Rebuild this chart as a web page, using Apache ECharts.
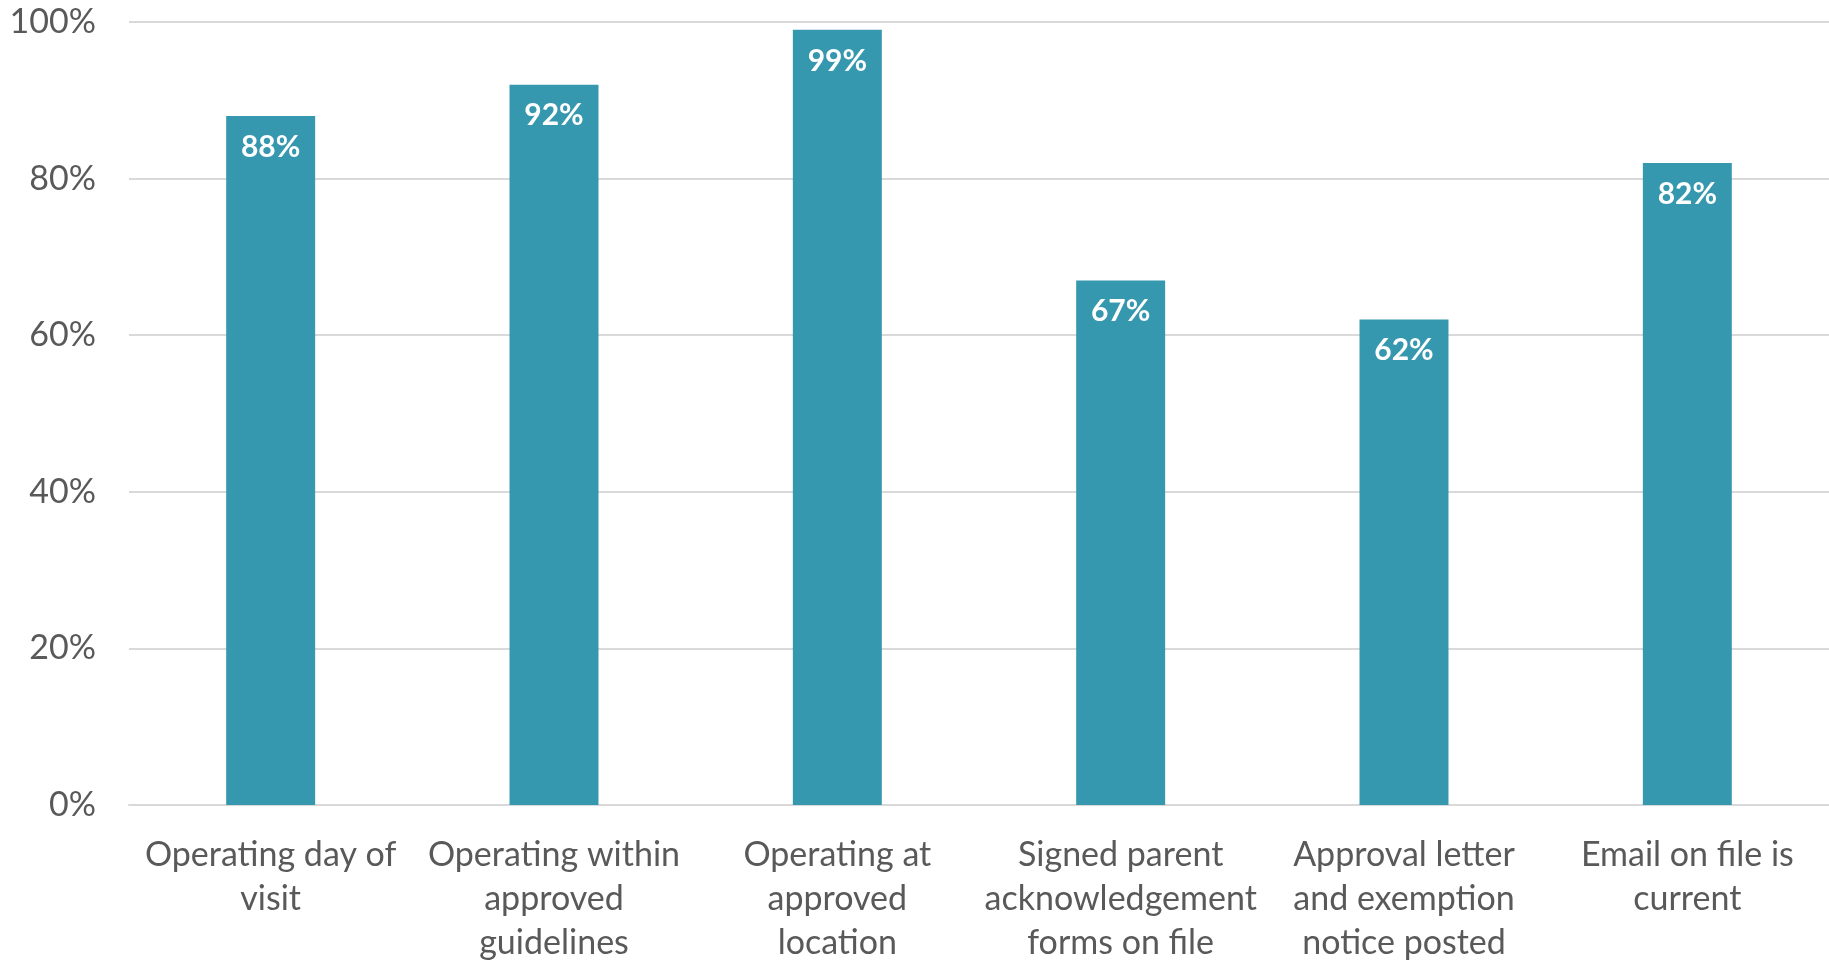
<!DOCTYPE html>
<html>
<head>
<meta charset="utf-8">
<title>Compliance by item</title>
<script src="https://cdn.jsdelivr.net/npm/echarts@6/dist/echarts.min.js"></script>
<style>
  html, body { margin: 0; padding: 0; background: #ffffff; }
  #chart { width: 1829px; height: 965px; }
</style>
</head>
<body>
<div id="chart"></div>
<script>
// Inspection items (line breaks mark where each label wraps)
const categories = [
  'Operating day of\nvisit',
  'Operating within\napproved\nguidelines',
  'Operating at\napproved\nlocation',
  'Signed parent\nacknowledgement\nforms on file',
  'Approval letter\nand exemption\nnotice posted',
  'Email on file is\ncurrent'
];

// Share of sites meeting each item, in percent
const percentMet = [88, 92, 99, 67, 62, 82];

// Value-axis ticks
const yTicks = [0, 20, 40, 60, 80, 100];

const chart = echarts.init(document.getElementById('chart'));

chart.setOption({
  animation: false,
  backgroundColor: '#ffffff',
  grid: { left: 129, right: -1, top: 22, bottom: 157, containLabel: false },
  xAxis: {
    type: 'category',
    data: categories,
    axisTick: { show: false },
    axisLine: { show: true, lineStyle: { color: '#d9d9d9', width: 2 } },
    axisLabel: {
      interval: 0,
      margin: 28,
      color: '#595959',
      fontFamily: 'Lato, "Open Sans", sans-serif',
      fontSize: 34,
      lineHeight: 44,
      align: 'center'
    }
  },
  yAxis: {
    type: 'value',
    min: yTicks[0],
    max: yTicks[yTicks.length - 1],
    interval: yTicks[1] - yTicks[0],
    axisLine: { show: false },
    axisTick: { show: false },
    splitLine: { lineStyle: { color: '#d9d9d9', width: 2 } },
    axisLabel: {
      margin: 33,
      color: '#595959',
      fontFamily: 'Lato, "Open Sans", sans-serif',
      fontSize: 34,
      formatter: v => v + '%'
    }
  },
  series: [{
    type: 'bar',
    data: percentMet,
    barWidth: '31.4%',
    itemStyle: { color: '#3598ae' },
    label: {
      show: true,
      position: 'insideTop',
      distance: 16,
      color: '#ffffff',
      fontWeight: 'bold',
      fontFamily: 'Lato, "Open Sans", sans-serif',
      fontSize: 30,
      formatter: p => p.value + '%'
    }
  }]
});
</script>
</body>
</html>
